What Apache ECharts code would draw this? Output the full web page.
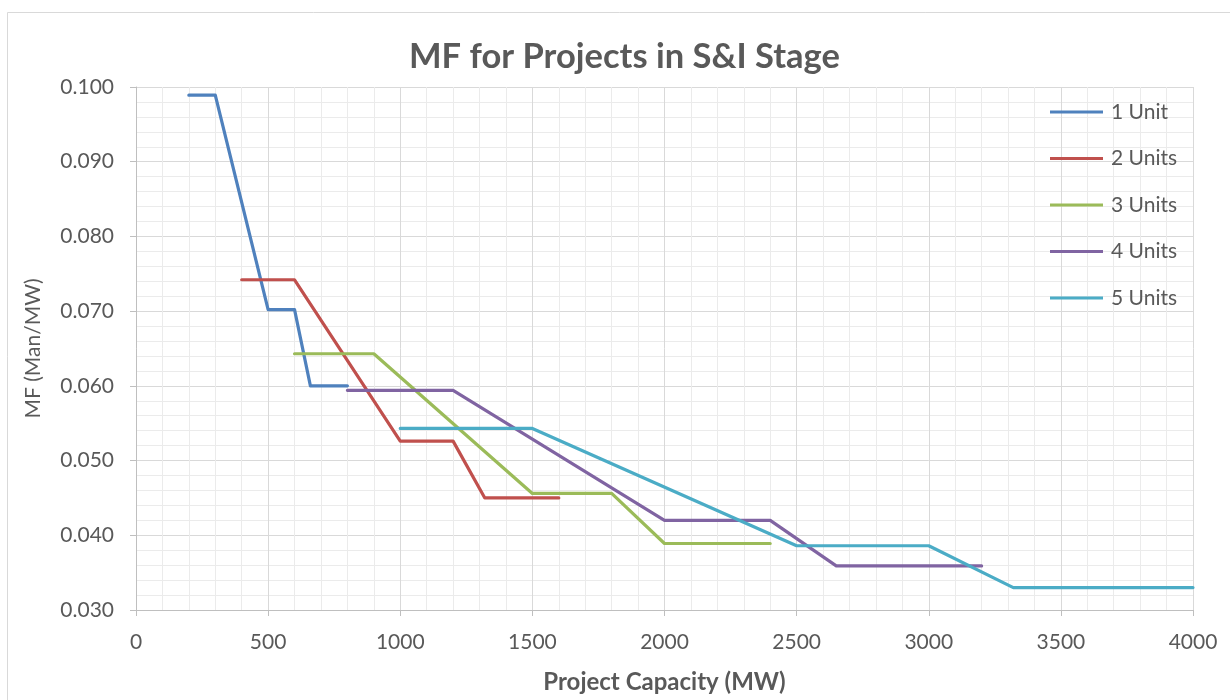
<!DOCTYPE html>
<html>
<head>
<meta charset="utf-8">
<title>MF for Projects in S&amp;I Stage</title>
<script src="https://cdn.jsdelivr.net/npm/echarts@6/dist/echarts.min.js"></script>
<style>
  html, body { margin: 0; padding: 0; background: #ffffff; }
  #chart { width: 1230px; height: 700px; }
</style>
</head>
<body>
<div id="chart"></div>
<script>
// Project capacity (MW) and manpower factor (Man/MW) for each unit count
const unit1X = [200, 300, 500, 600, 660, 800];
const unit1Y = [0.0989, 0.0989, 0.0702, 0.0702, 0.0600, 0.0600];

const unit2X = [400, 600, 1000, 1200, 1320, 1600];
const unit2Y = [0.0742, 0.0742, 0.0526, 0.0526, 0.0450, 0.0450];

const unit3X = [600, 900, 1500, 1800, 2000, 2400];
const unit3Y = [0.0643, 0.0643, 0.0456, 0.0456, 0.0389, 0.0389];

const unit4X = [800, 1200, 2000, 2400, 2650, 3200];
const unit4Y = [0.0594, 0.0594, 0.0420, 0.0420, 0.0359, 0.0359];

const unit5X = [1000, 1500, 2500, 3000, 3320, 4000];
const unit5Y = [0.0543, 0.0543, 0.0386, 0.0386, 0.0330, 0.0330];

const seriesNames = ['1 Unit', '2 Units', '3 Units', '4 Units', '5 Units'];
const seriesColors = ['#4F81BD', '#C0504D', '#9BBB59', '#8064A2', '#4BACC6'];

const xTicks = { min: 0, max: 4000, step: 500 };
const yTicks = { min: 0.03, max: 0.1, step: 0.01 };

const xs = [unit1X, unit2X, unit3X, unit4X, unit5X];
const ys = [unit1Y, unit2Y, unit3Y, unit4Y, unit5Y];

const FONT = 'Lato, "Open Sans", "Noto Sans", sans-serif';
const TEXT = '#595959';

const chart = echarts.init(document.getElementById('chart'), null, { renderer: 'canvas' });

const series = seriesNames.map((name, i) => ({
  name: name,
  type: 'line',
  data: xs[i].map((x, j) => [x, ys[i][j]]),
  showSymbol: false,
  symbol: 'none',
  smooth: false,
  lineStyle: { width: 3.2, color: seriesColors[i], cap: 'round', join: 'round' },
  itemStyle: { color: seriesColors[i] },
  emphasis: { disabled: true },
  animation: false
}));

chart.setOption({
  animation: false,
  backgroundColor: '#ffffff',
  graphic: [{
    type: 'rect',
    shape: { x: 7.5, y: 12.5, width: 1240, height: 720 },
    style: { fill: 'none', stroke: '#d9d9d9', lineWidth: 1 },
    silent: true,
    z: -1
  }],
  title: {
    text: 'MF for Projects in S&I Stage',
    left: 409,
    top: 39,
    padding: 0,
    textStyle: { fontFamily: FONT, fontSize: 34.5, fontWeight: 'bold', color: TEXT }
  },
  legend: {
    orient: 'vertical',
    left: 1050,
    top: 101.5,
    padding: 0,
    icon: 'rect',
    itemWidth: 53,
    itemHeight: 3,
    itemGap: 25.5,
    textStyle: { fontFamily: FONT, fontSize: 21, color: TEXT, lineHeight: 21, padding: [0, 0, 0, 3] },
    data: seriesNames
  },
  grid: { left: 136, right: 37, top: 87, bottom: 90, containLabel: false },
  xAxis: {
    type: 'value',
    min: xTicks.min,
    max: xTicks.max,
    interval: xTicks.step,
    name: 'Project Capacity (MW)',
    nameLocation: 'middle',
    nameGap: 60,
    nameTextStyle: { fontFamily: FONT, fontSize: 24, fontWeight: 'bold', color: TEXT },
    axisLine: { show: true, lineStyle: { color: '#bfbfbf', width: 1 } },
    axisTick: { show: true, length: 6, lineStyle: { color: '#bfbfbf' } },
    axisLabel: { fontFamily: FONT, fontSize: 21, color: TEXT, margin: 22, formatter: v => String(v) },
    splitLine: { show: true, lineStyle: { color: '#d9d9d9', width: 1 } },
    minorTick: { show: false, splitNumber: 5 },
    minorSplitLine: { show: true, lineStyle: { color: '#ebebeb', width: 1 } }
  },
  yAxis: {
    type: 'value',
    min: yTicks.min,
    max: yTicks.max,
    interval: yTicks.step,
    name: 'MF (Man/MW)',
    nameLocation: 'middle',
    nameGap: 92,
    nameTextStyle: { fontFamily: FONT, fontSize: 21, color: TEXT },
    axisLine: { show: true, lineStyle: { color: '#bfbfbf', width: 1 } },
    axisTick: { show: true, length: 6, lineStyle: { color: '#bfbfbf' } },
    axisLabel: { fontFamily: FONT, fontSize: 21, color: TEXT, margin: 22, formatter: v => v.toFixed(3) },
    splitLine: { show: true, lineStyle: { color: '#d9d9d9', width: 1 } },
    minorTick: { show: false, splitNumber: 5 },
    minorSplitLine: { show: true, lineStyle: { color: '#ebebeb', width: 1 } }
  },
  series: series
});
</script>
</body>
</html>
